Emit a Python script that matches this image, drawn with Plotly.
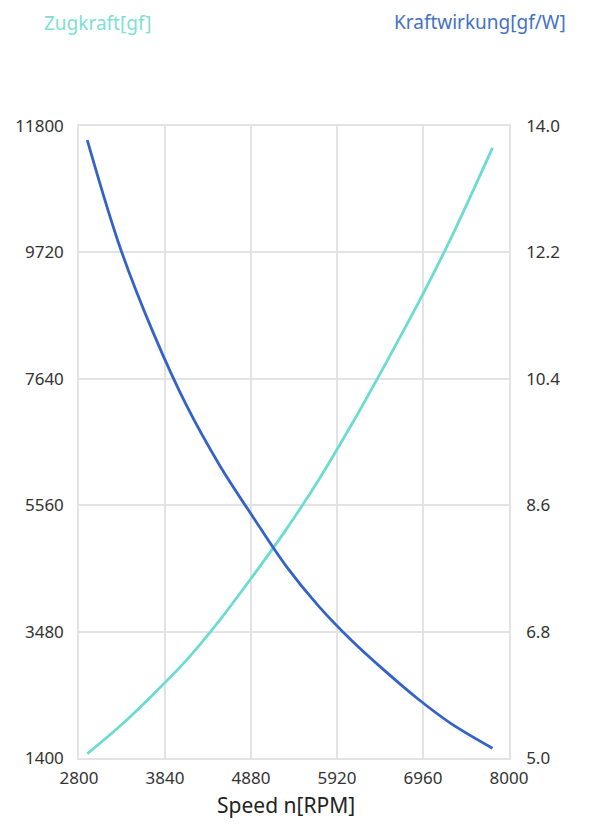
import plotly.graph_objects as go

# Data
rpm = [2900, 3300, 3700, 4100, 4500, 4900, 5300, 5700, 6100, 6500, 6900, 7300, 7800]
zug_gf = [1470, 1930, 2450, 3010, 3665, 4390, 5150, 5980, 6895, 7870, 8880, 9960, 11440]
kw_val = [13.80, 12.26, 11.05, 10.02, 9.17, 8.44, 7.74, 7.16, 6.67, 6.24, 5.84, 5.49, 5.14]

x_ticks = [2800, 3840, 4880, 5920, 6960, 8000]
y_left_ticks = [1400, 3480, 5560, 7640, 9720, 11800]
y_right_ticks = [5.0, 6.8, 8.6, 10.4, 12.2, 14.0]

left_title = "Zugkraft[gf]"
right_title = "Kraftwirkung[gf/W]"
x_title = "Speed n[RPM]"

CYAN = "#6CDCD2"
BLUE = "#3462C8"
GRID = "#E3E3E3"
FONT = "Noto Sans"

fig = go.Figure()
fig.add_trace(go.Scatter(x=rpm, y=zug_gf, mode="lines", name=left_title,
                         line=dict(color=CYAN, width=2.8, shape="spline", smoothing=1.0),
                         yaxis="y"))
fig.add_trace(go.Scatter(x=rpm, y=kw_val, mode="lines", name=right_title,
                         line=dict(color=BLUE, width=2.8, shape="spline", smoothing=1.0),
                         yaxis="y2"))

fig.update_layout(
    width=600, height=829,
    margin=dict(l=79, r=91, t=126, b=71),
    paper_bgcolor="white", plot_bgcolor="white",
    showlegend=False,
    font=dict(family=FONT, size=17, color="#333333"),
    xaxis=dict(range=[2800, 8000], tickvals=x_ticks, ticktext=[str(v) for v in x_ticks],
               showgrid=True, gridcolor=GRID, gridwidth=1.5,
               showline=True, linecolor=GRID, linewidth=1.5, mirror=True,
               zeroline=False, ticks="", ticklabelstandoff=4),
    yaxis=dict(range=[1400, 11800], tickvals=y_left_ticks, ticktext=[str(v) for v in y_left_ticks],
               showgrid=True, gridcolor=GRID, gridwidth=1.5,
               showline=True, linecolor=GRID, linewidth=1.5,
               zeroline=False, ticks="", ticklabelstandoff=10),
    yaxis2=dict(range=[5.0, 14.0], tickvals=y_right_ticks, ticktext=[f"{v:.1f}" for v in y_right_ticks],
                overlaying="y", side="right", showgrid=False,
                showline=True, linecolor=GRID, linewidth=1.5,
                zeroline=False, ticks="", ticklabelstandoff=12),
)

PW, PH = 430, 632
fig.add_annotation(text=left_title, xref="paper", yref="paper", x=(97 - 79) / PW, y=1 + (126 - 23) / PH,
                   xanchor="center", yanchor="middle", showarrow=False,
                   font=dict(family=FONT, size=19, color="#7EE0D6"))
fig.add_annotation(text=right_title, xref="paper", yref="paper", x=(568 - 79) / PW, y=1 + (126 - 22) / PH,
                   xanchor="right", yanchor="middle", showarrow=False,
                   font=dict(family=FONT, size=19, color="#4472C4"))
fig.add_annotation(text=x_title, xref="paper", yref="paper", x=(286 - 79) / PW, y=-(805 - 758) / PH,
                   xanchor="center", yanchor="middle", showarrow=False,
                   font=dict(family=FONT, size=21, color="#222222"))

fig.write_html("out.html")
